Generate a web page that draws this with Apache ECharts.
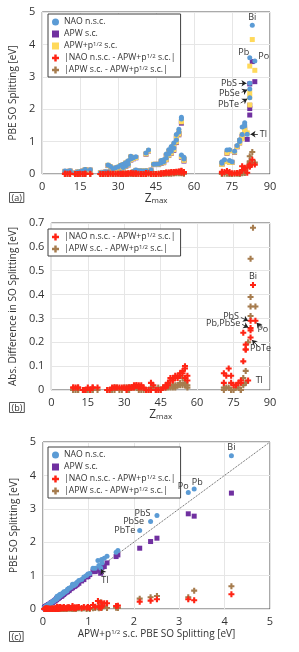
<!DOCTYPE html>
<html><head><meta charset="utf-8">
<script src="https://cdn.jsdelivr.net/npm/echarts@6/dist/echarts.min.js"></script>
<style>html,body{margin:0;padding:0;background:#fff}#c{width:299px;height:652px}</style>
</head><body><div id="c"></div>
<script>
// ---------------- DATA ----------------
const zmax = [9,9,10,11,11,
  13,14,14,15,16,17,17,19,
  23,24,25,26,26,27,28,29,30,31,31,32,32,33,33,34,34,35,35,36,36,37,
  37,38,39,40,41,41,42,43,44,45,46,47,47,48,48,49,49,
  50,50,51,51,52,52,53,53,54,54,55,55,55,56,56,
  71,71,72,73,74,74,75,76,77,78,78,79,79,80,80,80,
  81,82,82,82,82,83,84];
const naoNsc = [0.06,0.09,0.08,0.07,0.10,
  0.03,0.05,0.06,0.08,0.09,0.12,0.14,0.13,
  0.04,0.05,0.07,0.28,0.06,0.23,0.16,0.19,0.22,0.27,0.05,0.30,0.20,0.35,0.25,0.41,0.30,0.46,0.55,0.50,0.08,0.53,
  0.12,0.10,0.10,0.09,0.65,0.10,0.74,0.12,0.30,0.30,0.31,0.35,0.42,0.38,0.44,0.49,0.62,
  0.75,0.62,0.85,0.70,0.96,0.80,1.22,1.05,1.38,1.30,1.75,1.70,0.59,0.46,0.52,
  0.33,0.38,0.44,0.74,0.75,0.42,0.38,0.70,0.88,1.00,1.06,1.22,1.45,1.58,1.48,1.52,
  1.23,2.35,2.62,2.80,3.59,4.59,3.49];
const apwSc = [0.05,0.08,0.07,0.06,0.09,
  0.03,0.05,0.06,0.07,0.09,0.11,0.13,0.12,
  0.04,0.05,0.06,0.26,0.05,0.21,0.15,0.18,0.20,0.25,0.05,0.28,0.19,0.33,0.23,0.38,0.28,0.43,0.52,0.47,0.07,0.50,
  0.11,0.09,0.10,0.09,0.61,0.10,0.71,0.12,0.29,0.30,0.29,0.33,0.39,0.35,0.39,0.44,0.55,
  0.68,0.57,0.77,0.64,0.88,0.73,1.12,0.97,1.25,1.21,1.62,1.57,0.52,0.40,0.45,
  0.30,0.32,0.39,0.64,0.72,0.36,0.36,0.67,0.84,0.96,1.03,1.12,1.16,1.38,1.26,1.27,
  1.07,1.82,2.02,2.12,2.78,3.47,2.85];
const apwpSc = [0.05,0.08,0.07,0.06,0.09,
  0.03,0.05,0.06,0.07,0.09,0.11,0.13,0.12,
  0.04,0.05,0.06,0.27,0.05,0.22,0.15,0.18,0.21,0.26,0.05,0.29,0.19,0.34,0.24,0.39,0.29,0.44,0.53,0.48,0.07,0.51,
  0.11,0.09,0.10,0.09,0.62,0.10,0.72,0.12,0.30,0.30,0.30,0.34,0.40,0.36,0.41,0.45,0.57,
  0.70,0.58,0.79,0.65,0.90,0.75,1.15,0.99,1.30,1.23,1.65,1.61,0.54,0.42,0.46,
  0.30,0.31,0.38,0.65,0.72,0.36,0.36,0.68,0.85,0.96,1.03,1.10,1.21,1.41,1.29,1.35,
  1.27,2.13,2.37,2.51,3.33,4.15,3.20];
const diffNao = [0.01,0.01,0.01,0.01,0.01,
  0.00,0.00,0.00,0.01,0.00,0.01,0.01,0.01,
  0.00,0.00,0.01,0.01,0.01,0.01,0.01,0.01,0.01,0.01,0.00,0.01,0.01,0.01,0.01,0.02,0.01,0.02,0.02,0.02,0.01,0.02,
  0.01,0.01,0.00,0.00,0.03,0.00,0.02,0.00,0.00,0.00,0.01,0.01,0.02,0.02,0.03,0.04,0.05,
  0.05,0.04,0.06,0.05,0.06,0.05,0.07,0.06,0.08,0.07,0.10,0.09,0.05,0.04,0.06,
  0.03,0.07,0.06,0.09,0.03,0.06,0.02,0.02,0.03,0.04,0.03,0.12,0.24,0.17,0.19,0.17,
  0.04,0.22,0.25,0.29,0.26,0.44,0.29];
const diffApw = [0.00,0.00,0.00,0.00,0.00,
  0.00,0.00,0.00,0.00,0.00,0.00,0.00,0.00,
  0.00,0.00,0.00,0.01,0.00,0.01,0.00,0.00,0.01,0.01,0.00,0.01,0.00,0.01,0.01,0.01,0.01,0.01,0.01,0.01,0.00,0.01,
  0.00,0.00,0.00,0.00,0.01,0.00,0.01,0.00,0.01,0.00,0.01,0.01,0.01,0.01,0.02,0.01,0.02,
  0.02,0.01,0.02,0.01,0.02,0.02,0.03,0.02,0.05,0.02,0.03,0.04,0.02,0.02,0.01,
  0.00,0.01,0.01,0.01,0.00,0.00,0.00,0.01,0.01,0.00,0.00,0.02,0.05,0.03,0.03,0.08,
  0.20,0.31,0.35,0.39,0.55,0.68,0.35];
const labelledCompounds = ['Tl','PbTe','PbSe','PbS','Pb','Bi','Po']; // last entries of the arrays
const diagonal = [0, 5];
const seriesNames = ['NAO n.s.c.','APW s.c.','APW+p1/2 s.c.','|NAO n.s.c. - APW+p1/2 s.c.|','|APW s.c. - APW+p1/2 s.c.|'];

// ---------------- STYLE ----------------
const COL = {blue:'#5B9BD5', purple:'#7030A0', yellow:'#FFD95A', red:'#FF2414', brown:'#A67C4E'};
const PLUS = 'path://M2.6,0H5.4V2.6H8V5.4H5.4V8H2.6V5.4H0V2.6H2.6Z';
const FONT = 'Open Sans';
const idxOf = n => zmax.length - labelledCompounds.length + labelledCompounds.indexOf(n);

function sc(name, ai, xs, ys, symbol, size, color, z){
  return {type:'scatter', name, xAxisIndex:ai, yAxisIndex:ai, symbol, symbolSize:size, z:z,
    itemStyle:{color, opacity:1}, emphasis:{disabled:true},
    data: xs.map((x,i)=>[x, ys[i]])};
}
// text tag next to a data point (no arrow): a zero-length markLine carrying only the label
function tag(ai, n, xs, ys, o){
  const i = idxOf(n);
  return {type:'scatter', xAxisIndex:ai, yAxisIndex:ai, silent:true, symbolSize:0, zlevel:1, z:9,
    data:[[xs[i], ys[i]]],
    markPoint:{silent:true, animation:false, symbol:'circle', symbolSize:5, itemStyle:{color:'rgba(255,255,255,0)'},
      label:Object.assign({show:true, formatter:n, fontSize:9, fontFamily:FONT, color:'#333', opacity:1}, o),
      data:[{coord:[xs[i], ys[i]]}]}};
}
function arrow(ai, n, xs, ys, d0, d1, text){
  const i = idxOf(n), px = xs[i], py = ys[i];
  return {type:'scatter', xAxisIndex:ai, yAxisIndex:ai, silent:true, symbolSize:0, data:[[px,py]], z:8, zlevel:1,
    markLine:{silent:true, animation:false, symbol:['none','arrow'], symbolSize:5,
      lineStyle:{color:'#222', width:0.8, type:'solid'},
      label:{show:true, position:'start', formatter:text || n, fontSize:9, fontFamily:FONT, color:'#333', distance:2},
      data:[[{coord:[px+d0[0], py+d0[1]]},{coord:[px+d1[0], py+d1[1]]}]]}};
}
function xAx(ai, max, interval, name, gap, rich){
  return {gridIndex:ai, type:'value', min:0, max, interval, name, nameLocation:'middle', nameGap:gap,
    nameTextStyle:{fontSize:10, color:'#333', fontFamily:FONT, rich},
    axisLine:{show:false}, axisTick:{show:false},
    axisLabel:{fontSize:11, color:'#333', margin:7, fontFamily:FONT},
    splitLine:{lineStyle:{color:'#e6e6e6'}}};
}
function yAx(ai, max, interval, name, gap, fmt){
  return {gridIndex:ai, type:'value', min:0, max, interval, name, nameLocation:'middle', nameGap:gap,
    nameTextStyle:{fontSize:10, color:'#333', fontFamily:FONT},
    axisLine:{show:false}, axisTick:{show:false},
    axisLabel:{fontSize:11, color:'#333', margin:7, fontFamily:FONT, formatter:fmt},
    splitLine:{lineStyle:{color:'#e6e6e6'}}};
}
function legend(top, names){
  return {orient:'vertical', left:48, top, data:names, itemWidth:7, itemHeight:7, itemGap:2,
    padding:[3,5,2,4], borderColor:'#404040', borderWidth:1, backgroundColor:'#fff', selectedMode:false,
    textStyle:{fontSize:8.7, color:'#333', fontFamily:FONT, lineHeight:10,
      rich:{s:{fontSize:6, verticalAlign:'top', lineHeight:10, fontFamily:FONT, color:'#333'}}},
    formatter: n => n.replace(/p1\/2/g,'p{s|1/2}')};
}
const zRich = {z:{fontSize:12, color:'#333', fontFamily:FONT}, m:{fontSize:8, color:'#333', fontFamily:FONT, verticalAlign:'bottom', padding:[4,0,0,0]}};
const supRich = {s:{fontSize:6, verticalAlign:'top', color:'#333', fontFamily:FONT}};
const panelTag = (t, top) => ({type:'text', left:9, top, style:{text:t, fontSize:9, fontFamily:FONT, fill:'#333', borderColor:'#555', borderWidth:1, padding:[1,2,0,2]}});

const [N0,N1,N2,N3,N4] = seriesNames;
const option = {
  animation:false,
  textStyle:{fontFamily:FONT},
  grid:[
    {left:40, top:12, width:230, height:162, show:true, borderColor:'#555', borderWidth:1},
    {left:42, top:223, width:228, height:167, show:true, borderColor:'#555', borderWidth:1},
    {left:43, top:442, width:227, height:167, show:true, borderColor:'#555', borderWidth:1}],
  xAxis:[
    xAx(0, 90, 15, '{z|Z}{m|max}', 17, zRich),
    xAx(1, 90, 15, '{z|Z}{m|max}', 17, zRich),
    xAx(2, 5, 1, 'APW+p{s|1/2} s.c. PBE SO Splitting [eV]', 20, supRich)],
  yAxis:[
    yAx(0, 5, 1, 'PBE SO Splitting [eV]', 23),
    yAx(1, 0.7, 0.1, 'Abs. Difference in SO Splitting [eV]', 28, v => v===0 ? '0' : v.toFixed(1)),
    yAx(2, 5, 1, 'PBE SO Splitting [eV]', 22)],
  legend:[
    legend(14, [N0,N1,N2,N3,N4]),
    legend(229, [N3,N4]),
    legend(447, [N0,N1,N3,N4])],
  graphic:[panelTag('(a)',192), panelTag('(b)',402), panelTag('(c)',631)],
  series:[
    // (a)
    sc(N1, 0, zmax, apwSc, 'rect', 5, COL.purple, 2),
    sc(N2, 0, zmax, apwpSc, 'rect', 5, COL.yellow, 3),
    sc(N0, 0, zmax, naoNsc, 'circle', 5, COL.blue, 4),
    sc(N4, 0, zmax, diffApw, PLUS, 6, COL.brown, 4),
    sc(N3, 0, zmax, diffNao, PLUS, 6, COL.red, 5),
    tag(0, 'Bi', zmax, naoNsc, {position:'top', distance:1}),
    tag(0, 'Pb', zmax, naoNsc, {position:'top', distance:0, offset:[-6,2]}),
    tag(0, 'Po', zmax, naoNsc, {position:'right', distance:1, offset:[0,-4]}),
    arrow(0, 'PbS', zmax, naoNsc, [-4.3,0], [-1.3,0]),
    arrow(0, 'PbSe', zmax, naoNsc, [-3.2,-0.1], [-1.0,-0.02]),
    arrow(0, 'PbTe', zmax, naoNsc, [-3.6,-0.16], [-1.0,-0.03]),
    arrow(0, 'Tl', zmax, naoNsc, [4.2,0], [1.3,0]),
    // (b)
    sc(N4, 1, zmax, diffApw, PLUS, 6, COL.brown, 3),
    sc(N3, 1, zmax, diffNao, PLUS, 6, COL.red, 4),
    tag(1, 'Bi', zmax, diffNao, {position:'top', distance:2}),
    tag(1, 'Tl', zmax, diffNao, {position:'right', distance:5}),
    arrow(1, 'PbS', zmax, diffNao, [-4.0,0.014], [-1.0,0.0]),
    arrow(1, 'PbSe', zmax, diffNao, [-3.5,0.025], [-0.9,0.012], 'Pb,PbSe'),
    arrow(1, 'Po', zmax, diffNao, [2.5,-0.03], [0.5,-0.008]),
    arrow(1, 'PbTe', zmax, diffNao, [3.5,-0.04], [0.6,-0.01]),
    // (c)
    {type:'line', xAxisIndex:2, yAxisIndex:2, data:diagonal.map(v=>[v,v]), symbol:'none', silent:true, z:1,
      lineStyle:{color:'#555', width:1, type:'dotted'}},
    sc(N1, 2, apwpSc, apwSc, 'rect', 5, COL.purple, 2),
    sc(N0, 2, apwpSc, naoNsc, 'circle', 5, COL.blue, 3),
    sc(N4, 2, apwpSc, diffApw, PLUS, 6, COL.brown, 4),
    sc(N3, 2, apwpSc, diffNao, PLUS, 6, COL.red, 5),
    tag(2, 'Bi', apwpSc, naoNsc, {position:'top', distance:1}),
    tag(2, 'Po', apwpSc, naoNsc, {position:'top', distance:0, offset:[-5,1]}),
    tag(2, 'Pb', apwpSc, naoNsc, {position:'top', distance:0, offset:[3,0]}),
    tag(2, 'PbS', apwpSc, naoNsc, {position:'left', distance:4, offset:[0,-2]}),
    tag(2, 'PbSe', apwpSc, naoNsc, {position:'left', distance:4}),
    tag(2, 'PbTe', apwpSc, naoNsc, {position:'left', distance:2}),
    arrow(2, 'Tl', apwpSc, naoNsc, [0.07,-0.19], [0.01,-0.04])
  ]
};
const chart = echarts.init(document.getElementById('c'), null, {renderer:'canvas'});
chart.setOption(option);
</script>
</body></html>
